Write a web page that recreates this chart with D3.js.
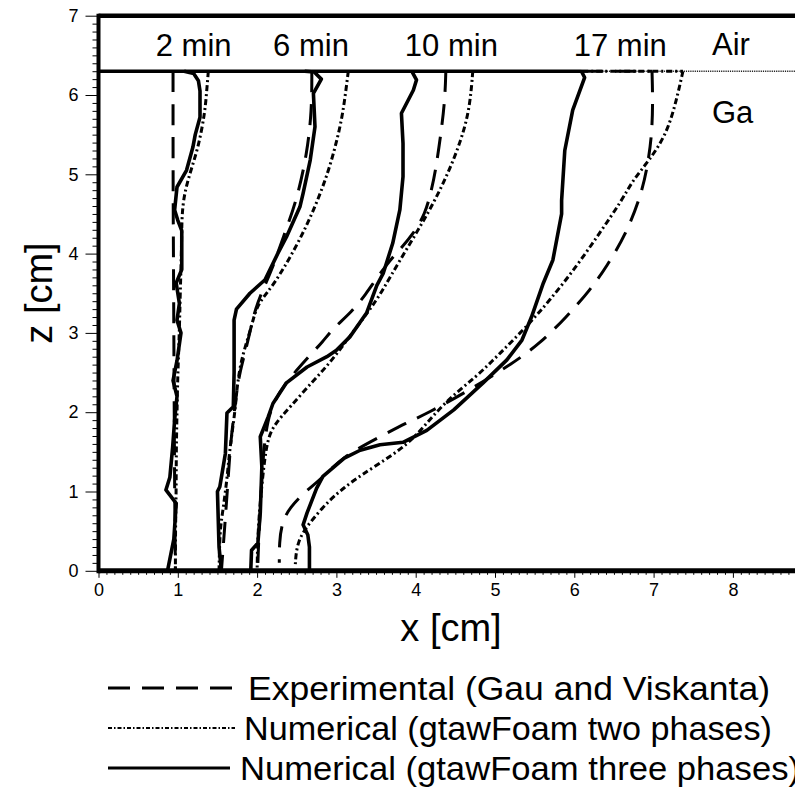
<!DOCTYPE html>
<html lang="en">
<head>
<meta charset="UTF-8" />
<title>Melting front positions</title>
<style>
  body { margin: 0; background: #fff; }
  text { font-family: "Liberation Sans", Arial, sans-serif; fill: #000; }
</style>
</head>
<body>
<div id="chart"></div>
<script src="https://d3js.org/d3.v7.min.js"></script>
<script>
const width = 795;
const height = 799;

// [x (cm), z (cm)] pairs, top to bottom
const exp2 = [[0.94,6.3],[0.94,5.0],[0.945,4.0],[0.95,3.0],[0.955,2.0],[0.96,1.0],[0.97,0]];
const two2 = [[1.385,6.3],[1.36,6.0],[1.34,5.77],[1.26,5.34],[1.15,5.01],[1.05,4.63],[1.05,4.13],
  [1.03,3.5],[1.02,3.0],[1.0,2.5],[0.99,2.0],[0.98,1.5],[0.98,1.0],[0.97,0.5],[0.97,0]];
const three2 = [[1.08,6.3],[1.2,6.27],[1.26,6.18],[1.28,6.05],[1.28,5.72],[1.22,5.5],[1.19,5.34],
  [1.11,5.05],[0.99,4.84],[0.96,4.55],[1.0,4.42],[1.05,4.29],[1.05,3.8],[0.98,3.63],[1.02,3.37],
  [0.99,3.16],[1.04,3.0],[0.99,2.65],[0.94,2.4],[0.99,2.2],[0.96,1.9],[0.935,1.56],[0.9,1.18],
  [0.85,1.02],[0.98,0.85],[0.95,0.4],[0.87,0]];

const exp6 = [[2.69,6.3],[2.69,5.81],[2.63,5.26],[2.5,4.67],[2.33,4.21],[2.2,3.83],[2.07,3.54],
  [1.97,3.29],[1.87,2.83],[1.78,2.5],[1.74,2.24],[1.7,1.9],[1.66,1.56],[1.62,0.93],[1.55,0]];
const two6 = [[3.15,6.3],[3.1,5.9],[3.05,5.6],[2.92,5.09],[2.75,4.63],[2.54,4.17],[2.27,3.7],
  [2.12,3.5],[1.99,3.33],[1.93,3.08],[1.85,2.83],[1.79,2.6],[1.76,2.4],[1.74,2.24],[1.72,1.99],
  [1.65,1.5],[1.62,1.14],[1.56,0.7],[1.53,0.5],[1.52,0]];
const three6 = [[2.6,6.3],[2.72,6.29],[2.81,6.2],[2.71,6.02],[2.73,5.6],[2.67,5.18],[2.58,4.76],
  [2.54,4.59],[2.37,4.21],[2.26,4.0],[2.1,3.67],[1.91,3.5],[1.74,3.3],[1.71,3.16],[1.71,2.5],
  [1.7,2.07],[1.62,1.99],[1.6,1.48],[1.53,1.06],[1.5,1.0],[1.52,0.3],[1.55,0]];

const exp10 = [[4.38,6.3],[4.37,5.97],[4.33,5.6],[4.26,5.1],[4.2,4.8],[4.12,4.5],[3.97,4.25],
  [3.8,4.05],[3.68,3.92],[3.5,3.68],[3.38,3.5],[3.19,3.26],[2.96,3.06],[2.83,2.89],[2.63,2.68],
  [2.5,2.53],[2.35,2.35],[2.22,2.15],[2.13,1.9],[2.08,1.5],[2.05,1.0],[2.02,0.4],[2.01,0.1]];
const two10 = [[4.72,6.3],[4.68,5.81],[4.56,5.39],[4.39,4.97],[4.18,4.55],[3.93,4.13],[3.68,3.71],
  [3.51,3.41],[3.26,3.08],[2.92,2.62],[2.71,2.4],[2.42,2.07],[2.2,1.83],[2.12,1.61],[2.07,1.19],
  [2.01,0.55],[2.0,0]];
const three10 = [[3.95,6.3],[4.01,6.19],[3.97,6.06],[3.82,5.77],[3.84,5.39],[3.84,4.97],[3.8,4.55],
  [3.71,4.13],[3.59,3.75],[3.51,3.6],[3.38,3.25],[3.17,2.95],[3.0,2.78],[2.88,2.7],[2.63,2.57],
  [2.37,2.37],[2.2,2.11],[2.14,1.94],[2.04,1.69],[2.06,1.31],[2.04,0.73],[2.01,0.35],[1.93,0.26],[1.92,0]];

const exp17 = [[6.1,6.3],[6.98,6.3],[6.99,5.94],[6.98,5.52],[6.93,5.14],[6.85,4.76],[6.66,4.26],
  [6.41,3.84],[6.2,3.54],[5.9,3.2],[5.57,2.87],[5.23,2.62],[4.68,2.28],[4.14,1.98],[3.89,1.87],
  [3.55,1.69],[3.08,1.44],[2.79,1.14],[2.63,1.02],[2.41,0.8],[2.31,0.6],[2.28,0.35],[2.28,0.1]];
const two17 = [[6.1,6.3],[7.37,6.3],[7.29,5.94],[7.17,5.52],[6.95,5.18],[6.74,4.93],[6.6,4.67],
  [6.32,4.26],[6.03,3.84],[5.69,3.41],[5.4,3.08],[5.06,2.74],[4.77,2.45],[4.34,2.11],[3.99,1.67],
  [3.68,1.44],[3.3,1.2],[3.1,1.05],[2.92,0.9],[2.67,0.62],[2.5,0.37],[2.48,0.05]];
const three17 = [[0,6.3],[6.09,6.3],[6.13,6.22],[5.98,5.81],[5.88,5.3],[5.84,4.67],[5.84,4.5],
  [5.73,3.92],[5.61,3.63],[5.46,3.2],[5.34,2.91],[5.15,2.66],[4.85,2.37],[4.48,2.03],[4.14,1.77],
  [3.84,1.62],[3.55,1.59],[3.3,1.52],[3.1,1.42],[2.83,1.19],[2.75,1.04],[2.63,0.73],[2.58,0.58],
  [2.64,0.45],[2.66,0.3],[2.66,0]];

const interfaceLine = [[0,6.3],[9,6.3]];

const timeLabels = ["2 min", "6 min", "10 min", "17 min"];
const timeLabelX = [1.2, 2.68, 4.45, 6.58];
const legendLabels = [
  "Experimental (Gau and Viskanta)",
  "Numerical (gtawFoam two phases)",
  "Numerical (gtawFoam three phases)"
];

const styles = {
  exp:   { width: 3, dash: "21,12", curve: d3.curveBasis },
  two:   { width: 3, dash: "6,3,2,3", curve: d3.curveBasis },
  three: { width: 3.6, dash: null, curve: d3.curveLinear }
};

const series = [
  { kind: "exp", data: exp2 }, { kind: "two", data: two2 }, { kind: "three", data: three2 },
  { kind: "exp", data: exp6 }, { kind: "two", data: two6 }, { kind: "three", data: three6 },
  { kind: "exp", data: exp10 }, { kind: "two", data: two10 }, { kind: "three", data: three10 },
  { kind: "exp", data: exp17 }, { kind: "two", data: two17 }, { kind: "three", data: three17 }
];

const x = d3.scaleLinear().domain([0, 9]).range([98.5, 98.5 + 9 * 79.3]);
const y = d3.scaleLinear().domain([0, 7]).range([570.8, 15.7]);

const svg = d3.select("#chart").append("svg")
  .attr("width", width)
  .attr("height", height);

const lineFor = curve => d3.line()
  .x(d => x(d[0]))
  .y(d => y(d[1]))
  .curve(curve);

// a run along the interface is drawn straight, the rest smoothed
function curvePath(d) {
  const st = styles[d.kind];
  const pts = d.data;
  if (st.curve !== d3.curveLinear && pts.length > 2 && pts[0][1] === pts[1][1]) {
    return lineFor(d3.curveLinear)(pts.slice(0, 2)) + lineFor(st.curve)(pts.slice(1));
  }
  return lineFor(st.curve)(pts);
}

// thin dotted interface line
svg.append("path")
  .attr("d", lineFor(d3.curveLinear)(interfaceLine))
  .attr("fill", "none")
  .attr("stroke", "#222")
  .attr("stroke-width", 1.6)
  .attr("stroke-dasharray", "1.2,1");

// curves
svg.append("g")
  .selectAll("path")
  .data(series)
  .join("path")
  .attr("d", curvePath)
  .attr("fill", "none")
  .attr("stroke", "#000")
  .attr("stroke-width", d => styles[d.kind].width)
  .attr("stroke-dasharray", d => styles[d.kind].dash)
  .attr("stroke-linejoin", "round");

// axes
const xMajor = d3.range(0, 9, 1);
const xMinor = d3.range(0, 88).map(i => i / 10).filter(v => Math.round(v * 10) % 10 !== 0);
const yMajor = d3.range(0, 8, 1);
const yMinor = d3.range(0, 70).map(i => i / 10).filter(v => Math.round(v * 10) % 10 !== 0);

const gx = svg.append("g").attr("transform", `translate(0,${y(0)})`);
gx.call(d3.axisBottom(x).tickValues(xMinor).tickSize(4).tickFormat(""));
gx.call(g => g.append("g").call(d3.axisBottom(x).tickValues(xMajor).tickSize(7).tickPadding(5).tickFormat(d3.format("d"))));
gx.selectAll(".domain").remove();
gx.selectAll("line").attr("stroke", "#000").attr("stroke-width", 1);
gx.selectAll("text").style("font-size", "18px").attr("dy", "0.75em");

const gy = svg.append("g").attr("transform", `translate(${x(0)},0)`);
gy.call(d3.axisLeft(y).tickValues(yMinor).tickSize(6).tickFormat(""));
gy.call(g => g.append("g").call(d3.axisLeft(y).tickValues(yMajor).tickSize(13).tickPadding(7).tickFormat(d3.format("d"))));
gy.selectAll(".domain").remove();
gy.selectAll("line").attr("stroke", "#000").attr("stroke-width", 1);
gy.selectAll("text").style("font-size", "18px");

// frame
const frame = svg.append("g").attr("stroke", "#000").attr("fill", "none");
frame.append("line").attr("x1", x(0)).attr("x2", width).attr("y1", y(0)).attr("y2", y(0)).attr("stroke-width", 5);
frame.append("line").attr("x1", x(0)).attr("x2", width).attr("y1", y(7)).attr("y2", y(7)).attr("stroke-width", 4.5);
frame.append("line").attr("x1", x(0)).attr("x2", x(0)).attr("y1", y(7) - 2).attr("y2", y(0) + 2.5).attr("stroke-width", 4);

// time labels
svg.append("g")
  .selectAll("text")
  .data(timeLabels)
  .join("text")
  .attr("x", (d, i) => x(timeLabelX[i]))
  .attr("y", 56)
  .attr("text-anchor", "middle")
  .style("font-size", "31px")
  .text(d => d);

svg.append("text").attr("x", 712).attr("y", 55).style("font-size", "31px").text("Air");
svg.append("text").attr("x", 712).attr("y", 123).style("font-size", "31px").text("Ga");

// axis titles
svg.append("text")
  .attr("x", 451).attr("y", 641)
  .attr("text-anchor", "middle")
  .style("font-size", "38px")
  .text("x [cm]");
svg.append("text")
  .attr("transform", "translate(52,293) rotate(-90)")
  .attr("text-anchor", "middle")
  .style("font-size", "38px")
  .text("z [cm]");

// legend
const legendKinds = ["exp", "two", "three"];
const legendTextLen = [522, 528, 560];
const lg = svg.append("g");
legendKinds.forEach((k, i) => {
  const yy = 688 + i * 40;
  lg.append("line")
    .attr("x1", 108).attr("x2", k === "three" ? 230 : 235)
    .attr("y1", yy).attr("y2", yy)
    .attr("stroke", "#000")
    .attr("stroke-width", k === "two" ? 2 : 3)
    .attr("stroke-dasharray", k === "exp" ? "22,12" : (k === "two" ? "4,2,1.5,2" : null));
  lg.append("text")
    .attr("x", k === "three" ? 240 : (k === "two" ? 244 : 248))
    .attr("y", yy + 12)
    .style("font-size", "33px")
    .attr("textLength", legendTextLen[i])
    .attr("lengthAdjust", "spacingAndGlyphs")
    .text(legendLabels[i]);
});
</script>
</body>
</html>
